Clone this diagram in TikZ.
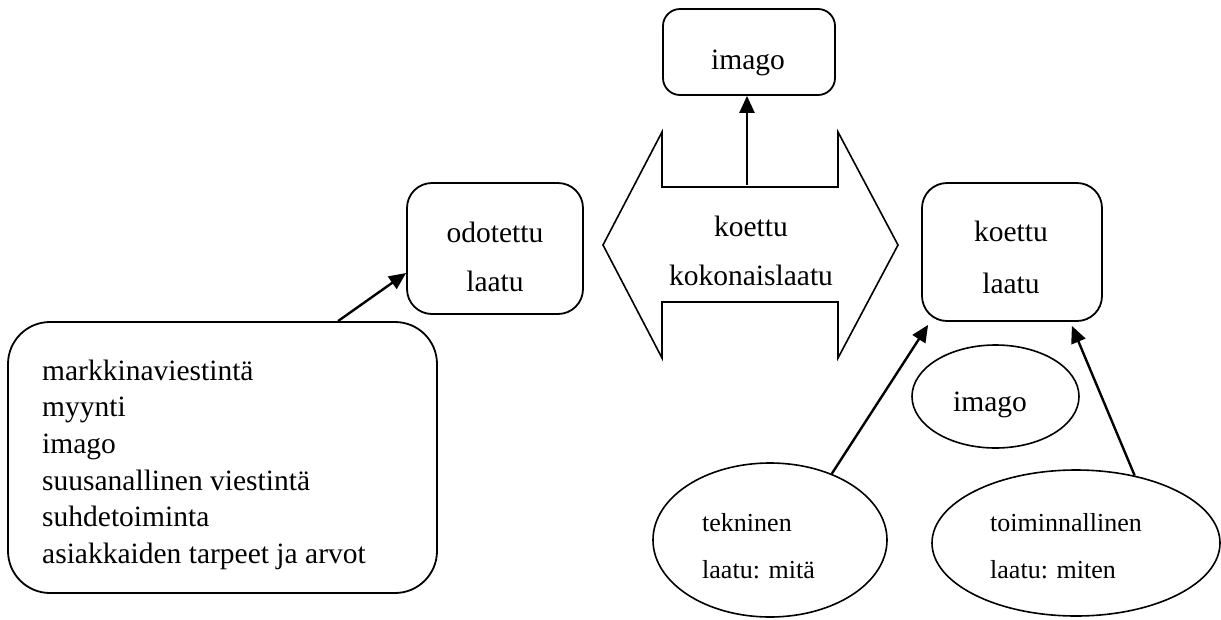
\documentclass[tikz,border=0pt]{standalone}
\usepackage{fontspec}
\setmainfont{Liberation Serif}
\usetikzlibrary{arrows.meta,shapes.geometric}

\begin{document}
\begin{tikzpicture}[x=1pt,y=-1pt,
  box/.style={draw,line width=1.8pt,rounded corners=#1,inner sep=0pt},
  box/.default=25pt,
  oval/.style={draw,ellipse,line width=1.6pt,inner sep=0pt},
  arr/.style={line width=2.4pt,-{Triangle[length=17pt,width=15pt]}},
  lbl/.style={font=\fontsize{29.5}{35}\selectfont,inner sep=0pt,anchor=base},
  lblleft/.style={font=\fontsize{29.5}{35}\selectfont,inner sep=0pt,anchor=base west},
  small/.style={font=\fontsize{26}{31}\selectfont,inner sep=0pt,anchor=base west}]

\useasboundingbox (0,0) rectangle (1221,619);

% boxes
\node[box=17pt,minimum width=172pt,minimum height=86pt] (imagoTop) at (749,52) {};
\node[box,minimum width=176pt,minimum height=131pt] (odot) at (495,248.5) {};
\node[box,minimum width=180pt,minimum height=138pt] (kl) at (1012,252) {};
\node[box=42pt,minimum width=429pt,minimum height=271pt] (big) at (222.5,457.5) {};

% ellipses
\node[oval,minimum width=167pt,minimum height=103pt] (imagoOval) at (995.5,396.5) {};
\node[oval,minimum width=234pt,minimum height=154pt] (tek) at (770,540) {};
\node[oval,minimum width=288pt,minimum height=146pt] (toi) at (1076,543) {};

% double arrow
\draw[line width=1.6pt,line join=miter]
  (603,245) -- (662,132) -- (662,187) -- (838,187) -- (838,132) -- (898,245)
  -- (838,358) -- (838,302) -- (662,302) -- (662,358) -- cycle;
\coordinate (shaftTop) at (747,185);

% labels
\node[lbl] (tImagoTop) at (748,69.5) {imago};
\node[lbl] (tOdot1) at (495,242.5) {odotettu};
\node[lbl] (tOdot2) at (495,291.5) {laatu};
\node[lbl] (tKl1) at (1011,241.5) {koettu};
\node[lbl] (tKl2) at (1011,293) {laatu};
\node[lbl] (tKk1) at (751,236.5) {koettu};
\node[lbl] (tKk2) at (751,285) {kokonaislaatu};
\node[lbl] (tImagoOval) at (990,411) {imago};

\foreach \t [count=\i from 0] in {markkinaviestintä,myynti,imago,suusanallinen viestintä,suhdetoiminta,asiakkaiden tarpeet ja arvot}
  \node[lblleft] (line\i) at (42,380+36.7*\i) {\t};

\node[small] (tTek1) at (702,531) {tekninen};
\node[small] (tTek2) at (702,578) {laatu: mitä};
\node[small] (tToi1) at (990,531) {toiminnallinen};
\node[small] (tToi2) at (990,578) {laatu: miten};

% connectors
\draw[arr] ([xshift=115.5pt]big.north) -- ([yshift=-24.5pt]odot.west);
\draw[arr] (shaftTop) -- (shaftTop |- imagoTop.south);
\draw[arr] (tek.47) -- ([xshift=7pt,yshift=-3pt]kl.south west);
\draw[arr] (toi.49) -- ([xshift=-31pt,yshift=-4pt]kl.south east);

\end{tikzpicture}
\end{document}
